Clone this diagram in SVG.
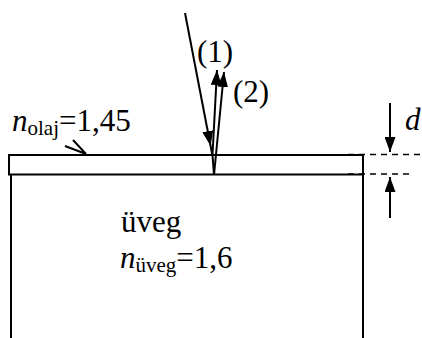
<svg xmlns="http://www.w3.org/2000/svg" width="422" height="338" viewBox="0 0 422 338">
<style>
.ln{stroke:#000;stroke-width:2;fill:none;stroke-linecap:butt}
.ray{stroke:#000;stroke-width:2;fill:none}
.dash{stroke:#000;stroke-width:1.5;stroke-dasharray:6 5;fill:none}
text{font-family:'Liberation Serif','Times New Roman',serif;font-size:31px;fill:#000}
.i{font-style:italic}
.s{font-size:21px}
</style>
<defs>
<marker id="ah" viewBox="0 0 15 11" refX="15" refY="5.5" markerWidth="15" markerHeight="11" markerUnits="userSpaceOnUse" orient="auto">
<path d="M0,0 L15,5.5 L0,11 Z" fill="#000"/>
</marker>
</defs>
<rect width="422" height="338" fill="#fff"/>
<g id="glass">
<line class="ln" x1="11" y1="175" x2="11" y2="338"/>
<line class="ln" x1="363" y1="155" x2="363" y2="338"/>
<text x="121" y="232">üveg</text>
<text x="120" y="268"><tspan class="i">n</tspan><tspan class="s" dy="4">üveg</tspan><tspan dy="-4">=1,6</tspan></text>
</g>
<g id="film">
<rect class="ln" x="9" y="155" width="354" height="19.5"/>
<text x="12" y="131"><tspan class="i">n</tspan><tspan class="s" dy="4">olaj</tspan><tspan dy="-4">=1,45</tspan></text>
<path class="ln" d="M73,140 L86,154 M65,146 L86,154"/>
</g>
<g id="thickness">
<line class="dash" x1="348" y1="154.5" x2="422" y2="154.5"/>
<line class="dash" x1="348" y1="174" x2="410" y2="174"/>
<line class="ray" x1="390" y1="103" x2="390" y2="152" marker-end="url(#ah)"/>
<line class="ray" x1="390" y1="218" x2="390" y2="177" marker-end="url(#ah)"/>
<text class="i" x="405" y="130">d</text>
</g>
<g id="connectors">
<line class="ray" x1="185" y1="13" x2="210.6" y2="146" marker-end="url(#ah)"/>
<line class="ray" x1="210.6" y1="146" x2="212.3" y2="155"/>
<line class="ray" x1="212.5" y1="155" x2="214" y2="175"/>
<line class="ray" x1="212.5" y1="155" x2="217" y2="70" marker-end="url(#ah)"/>
<line class="ray" x1="214" y1="175" x2="224" y2="72" marker-end="url(#ah)"/>
</g>
<g id="labels">
<text x="197" y="62">(1)</text>
<text x="233" y="102">(2)</text>
</g>
</svg>
